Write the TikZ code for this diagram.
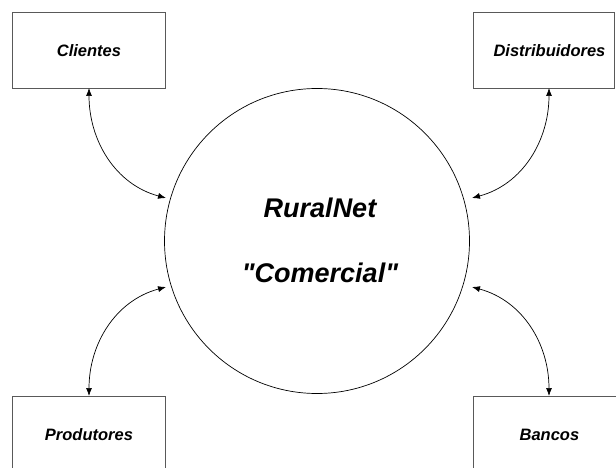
\documentclass[tikz,border=0pt]{standalone}
\usepackage{fontspec}
\setmainfont{Liberation Sans}[Ligatures=TeXOff]
\usetikzlibrary{arrows.meta}
\begin{document}
\begin{tikzpicture}[x=1pt,y=-1pt,
  entity/.style={draw=black!65,line width=0.9pt,minimum width=153pt,minimum height=76pt,inner sep=0pt,font=\fontsize{16.5}{19}\selectfont\bfseries\itshape},
  hub/.style={circle,draw=black,line width=0.7pt,minimum size=305pt,inner sep=0pt},
  flow/.style={line width=0.7pt,{Latex[length=8pt,width=6pt]}-{Latex[length=8pt,width=6pt]}},
  bigtext/.style={font=\fontsize{27}{31}\selectfont\bfseries\itshape}]
\useasboundingbox (0,0) rectangle (616,468);
\clip (0,0) rectangle (616,468);
\fill[white] (0,0) rectangle (616,468);
\node[hub] (c) at (317,241) {};
\node[bigtext] (t1) at (320,208) {RuralNet};
\node[bigtext] (t2) at (320,273) {"Comercial"};
\node[entity,anchor=north west] (cli) at (12,12) {Clientes};
\node[entity,anchor=north west,minimum width=141pt,text width=141pt,align=center] (dis) at (472.5,12) {\hspace*{12pt}Distribuidores};
\node[entity,anchor=north west] (pro) at (12,396) {Produtores};
\node[entity,anchor=north west] (ban) at (472.5,396) {Bancos};
\coordinate (c1) at (166,198);
\coordinate (c2) at (472,198);
\coordinate (c3) at (166,287);
\coordinate (c4) at (472,287);
\coordinate (b1) at (89,88);
\coordinate (b2) at (549,88);
\coordinate (b3) at (89,396);
\coordinate (b4) at (549,396);
\draw[flow] (b1) to[out=-90,in=165] (c1);
\draw[flow] (b2) to[out=-90,in=15] (c2);
\draw[flow] (b3) to[out=90,in=-165] (c3);
\draw[flow] (b4) to[out=90,in=-15] (c4);
\end{tikzpicture}
\end{document}
